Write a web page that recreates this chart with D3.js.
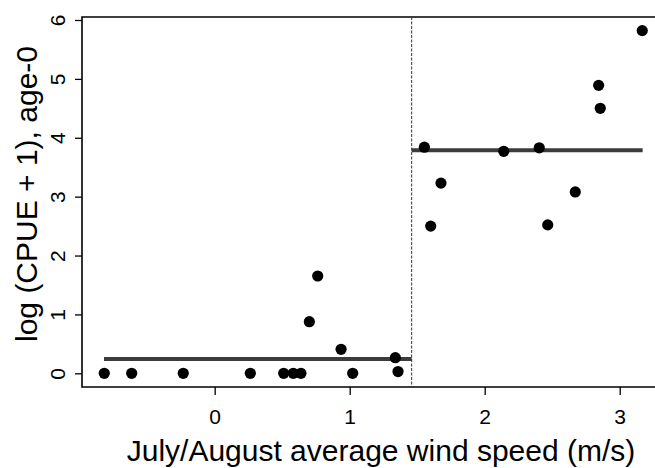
<!DOCTYPE html>
<html>
<head>
<meta charset="utf-8">
<script src="https://cdn.jsdelivr.net/npm/d3@7"></script>
<style>
  html, body { margin: 0; padding: 0; background: #fff; }
  svg { display: block; }
  text { font-family: "Liberation Sans", Arial, sans-serif; fill: #000; }
</style>
</head>
<body>
<svg id="chart" width="655" height="468"></svg>
<script>
// Data
const windSpeed = [-0.818, -0.615, -0.233, 0.264, 0.511, 0.582, 0.639, 0.701, 0.763, 0.936, 1.022, 1.338, 1.358,
                   1.553, 1.600, 1.676, 2.141, 2.404, 2.467, 2.671, 2.844, 2.856, 3.167];
const logCPUE   = [0, 0, 0, 0, 0, 0, 0, 0.876, 1.652, 0.407, 0, 0.265, 0.03,
                   3.84, 2.50, 3.23, 3.77, 3.83, 2.52, 3.08, 4.89, 4.50, 5.82];
const breakpoint = 1.459;
const segStart = [-0.82, 1.459];
const segEnd   = [1.459, 3.17];
const segLevel = [0.243, 3.79];
const xTicks = [0, 1, 2, 3];
const yTicks = [0, 1, 2, 3, 4, 5, 6];
const xTitle = "July/August average wind speed (m/s)";
const yTitle = "log (CPUE + 1), age-0";

const svg = d3.select("#chart");
const box = { left: 82, top: 17, bottom: 387, right: 700 };

const x = d3.scaleLinear().domain([0, 3]).range([214.7, 619.7]);
const y = d3.scaleLinear().domain([0, 6]).range([373.3, 20]);

// Box (right edge falls outside the picture)
svg.append("path")
  .attr("d", `M${box.right},${box.top}H${box.left}V${box.bottom}H${box.right}`)
  .attr("fill", "none").attr("stroke", "#000").attr("stroke-width", 1.6);

// X axis
const gx = svg.append("g").attr("transform", `translate(0,${box.bottom})`)
  .call(d3.axisBottom(x).tickValues(xTicks).tickSize(8).tickPadding(14).tickFormat(d3.format("d")));
gx.select(".domain").remove();
gx.selectAll(".tick line").attr("stroke", "#000").attr("stroke-width", 1.3);
gx.selectAll(".tick text").attr("font-size", 21).style("font-family", "Liberation Sans, Arial, sans-serif");

// Y axis
const gy = svg.append("g").attr("transform", `translate(${box.left},0)`)
  .call(d3.axisLeft(y).tickValues(yTicks).tickSize(7).tickFormat(d3.format("d")));
gy.select(".domain").remove();
gy.selectAll(".tick line").attr("stroke", "#000").attr("stroke-width", 1.3);
gy.selectAll(".tick text")
  .attr("x", null).attr("dy", null)
  .attr("transform", "translate(-17,0) rotate(-90)")
  .attr("text-anchor", "middle")
  .attr("font-size", 21).style("font-family", "Liberation Sans, Arial, sans-serif");

// Breakpoint dashed line
svg.append("line")
  .attr("x1", x(breakpoint)).attr("x2", x(breakpoint))
  .attr("y1", box.top).attr("y2", box.bottom)
  .attr("stroke", "#333").attr("stroke-width", 1).attr("stroke-dasharray", "3,1.5");

// Fitted step segments
svg.selectAll(".seg").data(segLevel).join("line").attr("class", "seg")
  .attr("x1", (d, i) => x(segStart[i])).attr("x2", (d, i) => x(segEnd[i]))
  .attr("y1", d => y(d)).attr("y2", d => y(d))
  .attr("stroke", "#3c3c3c").attr("stroke-width", 4);

// Points
svg.selectAll(".pt").data(windSpeed).join("circle").attr("class", "pt")
  .attr("cx", d => x(d)).attr("cy", (d, i) => y(logCPUE[i]))
  .attr("r", 5.6).attr("fill", "#000");

// Titles
svg.append("text").attr("x", 381).attr("y", 461).attr("text-anchor", "middle")
  .attr("font-size", 30).text(xTitle);
svg.append("text").attr("transform", "translate(37,194) rotate(-90)").attr("text-anchor", "middle")
  .attr("font-size", 30).text(yTitle);
</script>
</body>
</html>
